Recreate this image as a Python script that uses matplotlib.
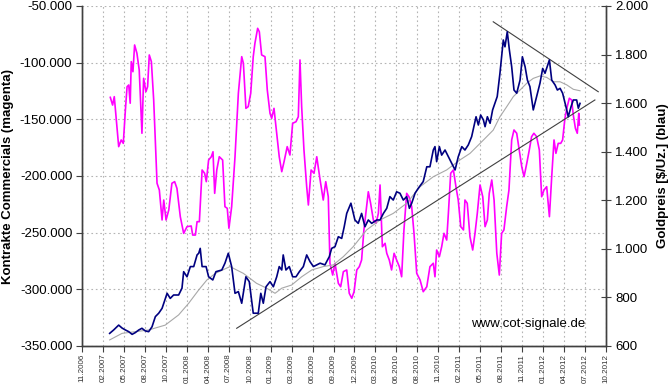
import matplotlib
matplotlib.use("Agg")
import matplotlib.pyplot as plt
from matplotlib.ticker import FuncFormatter

plt.rcParams['font.family'] = ['Liberation Sans', 'DejaVu Sans']

# x positions are given in units of the (evenly spaced) date ticks below
tick_labels = ["11.2006", "02.2007", "05.2007", "08.2007", "10.2007", "01.2008",
               "04.2008", "07.2008", "10.2008", "01.2009", "03.2009", "06.2009",
               "09.2009", "12.2009", "03.2010", "06.2010", "08.2010", "11.2010",
               "02.2011", "05.2011", "08.2011", "11.2011", "01.2012", "04.2012",
               "07.2012", "10.2012"]

# gold price [$/oz]
gold_x = [1.32, 1.51, 1.75, 1.91, 2.07, 2.23, 2.39, 2.54, 2.71, 2.86, 3.02, 3.18, 3.34, 3.50,
          3.66, 3.82, 4.06, 4.21, 4.37, 4.61, 4.77, 4.85, 5.01, 5.17, 5.33, 5.49, 5.57, 5.64,
          5.73, 5.92, 6.04, 6.24, 6.39, 6.67, 6.82, 6.98, 7.14, 7.30, 7.46, 7.62, 7.82, 7.98,
          8.17, 8.41, 8.53, 8.65, 8.78, 8.97, 9.13, 9.29, 9.41, 9.53, 9.60, 9.73, 9.89, 10.05,
          10.21, 10.37, 10.56, 10.72, 10.88, 11.04, 11.20, 11.36, 11.59, 11.80, 11.91, 12.07,
          12.23, 12.39, 12.51, 12.63, 12.83, 13.02, 13.18, 13.34, 13.50, 13.66, 13.82, 14.06,
          14.22, 14.38, 14.54, 14.69, 14.85, 15.01, 15.17, 15.33, 15.49, 15.62, 15.73, 15.89,
          16.04, 16.28, 16.45, 16.60, 16.76, 16.84, 16.92, 17.05, 17.16, 17.32, 17.48, 17.64,
          17.80, 17.95, 18.12, 18.27, 18.43, 18.59, 18.80, 18.91, 19.02, 19.15, 19.23, 19.34,
          19.47, 19.59, 19.70, 19.81, 19.94, 20.02, 20.10, 20.18, 20.29, 20.39, 20.50, 20.61,
          20.74, 20.90, 21.01, 21.14, 21.25, 21.37, 21.53, 21.69, 21.85, 21.98, 22.09, 22.30,
          22.41, 22.57, 22.68, 22.81, 22.93, 23.09, 23.20, 23.33, 23.44, 23.60, 23.68, 23.76]
gold = [652, 666, 686, 674, 666, 659, 648, 655, 666, 673, 662, 659, 679, 721,
        735, 755, 817, 796, 810, 810, 838, 906, 885, 927, 927, 975, 982, 1002,
        927, 927, 885, 872, 906, 913, 941, 982, 927, 817, 824, 776, 885, 865,
        735, 735, 817, 776, 844, 865, 844, 885, 927, 913, 975, 913, 927, 885,
        885, 906, 927, 975, 947, 927, 934, 941, 934, 968, 1002, 1009,
        1050, 1043, 1091, 1146, 1188, 1119, 1105, 1146, 1091, 1119, 1105, 1119,
        1119, 1146, 1167, 1215, 1201, 1235, 1229, 1201, 1215, 1167, 1188, 1229,
        1249, 1277, 1338, 1338, 1407, 1421, 1359, 1421, 1386, 1407, 1379, 1352,
        1325, 1379, 1421, 1407, 1428, 1462, 1544, 1510, 1551, 1531, 1503, 1544,
        1517, 1572, 1599, 1627, 1723, 1791, 1860, 1832, 1894, 1819, 1750, 1654,
        1641, 1695, 1791, 1750, 1695, 1668, 1572, 1627, 1682, 1743, 1723, 1778,
        1695, 1675, 1654, 1661, 1641, 1585, 1544, 1585, 1613, 1613, 1579, 1599]

# moving average of the gold price
avg_x = [1.32, 1.91, 2.54, 3.18, 3.97, 4.61, 5.09, 5.57, 5.96, 6.36, 7.06, 7.70, 8.33, 8.81,
         9.21, 9.53, 10.00, 10.48, 10.96, 11.51, 11.99, 12.47, 12.94, 13.58, 14.22, 14.85,
         15.49, 16.13, 16.76, 17.40, 18.03, 18.51, 19.15, 19.62, 19.94, 20.26, 20.58, 20.90,
         21.22, 21.53, 21.85, 22.17, 22.49, 22.81, 23.13, 23.44, 23.76]
gold_avg = [625, 652, 659, 666, 686, 728, 776, 831, 872, 899, 927, 899, 858, 838,
            817, 838, 851, 885, 913, 927, 934, 968, 1009, 1078, 1119, 1146,
            1188, 1256, 1297, 1325, 1366, 1393, 1448, 1489, 1544, 1585, 1627, 1654,
            1682, 1702, 1712, 1706, 1688, 1688, 1675, 1657, 1651]

# net contracts of the commercials
cot_x = [1.35, 1.46, 1.54, 1.64, 1.75, 1.87, 1.97, 2.07, 2.15, 2.23, 2.30, 2.35, 2.43, 2.51,
         2.62, 2.73, 2.86, 2.94, 3.05, 3.13, 3.21, 3.31, 3.42, 3.58, 3.69, 3.82, 3.90, 4.01,
         4.14, 4.29, 4.42, 4.53, 4.69, 4.85, 5.01, 5.21, 5.28, 5.41, 5.49, 5.60, 5.73, 5.85,
         5.93, 6.04, 6.17, 6.25, 6.33, 6.43, 6.55, 6.71, 6.82, 6.93, 7.01, 7.14, 7.30, 7.46,
         7.62, 7.70, 7.82, 7.93, 8.05, 8.17, 8.25, 8.38, 8.46, 8.57, 8.73, 8.84, 8.97, 9.05,
         9.16, 9.29, 9.41, 9.53, 9.64, 9.79, 9.92, 10.05, 10.21, 10.32, 10.40, 10.48, 10.59,
         10.72, 10.80, 10.93, 11.07, 11.20, 11.36, 11.51, 11.63, 11.75, 11.83, 11.96, 12.07,
         12.23, 12.34, 12.47, 12.63, 12.75, 12.87, 12.98, 13.11, 13.23, 13.34, 13.45, 13.58,
         13.66, 13.77, 13.90, 14.03, 14.14, 14.22, 14.33, 14.46, 14.54, 14.66, 14.77, 14.89,
         15.01, 15.14, 15.25, 15.36, 15.49, 15.60, 15.73, 15.84, 15.97, 16.13, 16.28, 16.45,
         16.60, 16.76, 16.84, 16.92, 17.05, 17.16, 17.27, 17.40, 17.48, 17.59, 17.72, 17.84,
         17.95, 18.07, 18.20, 18.27, 18.38, 18.51, 18.64, 18.75, 18.86, 18.99, 19.12, 19.23,
         19.34, 19.43, 19.55, 19.66, 19.79, 19.91, 20.02, 20.13, 20.26, 20.37, 20.50, 20.61,
         20.74, 20.86, 20.98, 21.09, 21.22, 21.34, 21.45, 21.56, 21.69, 21.82, 21.93, 22.04,
         22.17, 22.30, 22.41, 22.52, 22.61, 22.72, 22.84, 22.93, 23.04, 23.15, 23.25, 23.36,
         23.44, 23.54, 23.63, 23.70, 23.73]
cot = [-130.6, -137.4, -130.0, -150.6, -174.1, -168.2, -171.2, -141.8, -121.2, -119.7, -135.8,
       -99.1, -108.0, -84.4, -91.7, -106.5, -162.3, -113.8, -125.6, -121.2, -93.2, -99.1,
       -132.9, -206.4, -212.4, -238.8, -221.2, -238.8, -230.0, -206.4, -205.0, -210.9, -235.9,
       -250.6, -244.7, -244.1, -252.1, -252.1, -240.3, -240.3, -194.7, -197.6, -205.0, -185.9,
       -183.0, -178.6, -215.3, -194.7, -183.0, -185.9, -227.1, -228.5, -246.1, -227.1, -183.0,
       -127.0, -94.7, -100.6, -140.3, -138.8, -127.0, -94.7, -82.9, -69.7, -72.7, -93.2, -94.7,
       -124.1, -144.7, -149.1, -140.3, -162.3, -183.0, -196.2, -187.4, -174.1, -181.5, -153.5,
       -152.1, -147.7, -97.6, -138.8, -177.1, -209.4, -225.6, -194.7, -197.6, -183.0, -203.5,
       -221.2, -205.0, -218.3, -277.0, -287.4, -277.0, -294.7, -297.7, -284.4, -282.9, -303.5,
       -307.9, -302.1, -282.9, -280.0, -274.1, -247.6, -227.1, -213.9, -224.1, -238.8, -241.7,
       -232.9, -207.9, -262.4, -259.4, -268.2, -274.1, -282.9, -268.2, -274.1, -280.0, -288.9,
       -247.6, -215.3, -218.3, -227.1, -250.6, -285.9, -291.8, -302.1, -297.7, -280.0, -277.0,
       -288.9, -265.3, -271.2, -262.4, -250.6, -256.5, -232.9, -197.6, -194.7, -209.4, -221.2,
       -244.7, -247.6, -221.2, -224.1, -253.6, -265.3, -250.6, -232.9, -207.9, -218.3, -244.7,
       -238.8, -215.3, -203.5, -221.2, -268.2, -287.4, -250.6, -247.6, -227.1, -212.4, -168.2,
       -159.4, -162.3, -177.1, -191.8, -200.6, -188.8, -177.1, -165.3, -162.3, -165.3, -177.1,
       -218.3, -212.4, -209.4, -235.9, -200.6, -168.2, -180.0, -171.2, -171.2, -168.2, -149.1,
       -138.8, -131.4, -132.9, -146.2, -157.9, -162.3, -144.7, -155.0]
cot = [v * 1000 for v in cot]

# trend lines on the gold price
lower_x, lower_y = [7.38, 24.47], [673, 1613]
upper_x, upper_y = [19.62, 24.63], [1935, 1647]

fig = plt.figure(figsize=(6.7, 3.84), dpi=100)
ax = fig.add_axes([82 / 670, 1 - 346 / 384, 524 / 670, 340 / 384])
ax2 = ax.twinx()

ax.plot(cot_x, cot, c='#ff00ff', lw=1.2)
ax2.plot(avg_x, gold_avg, c='#a8a8a8', lw=0.8)
ax2.plot(lower_x, lower_y, c='#404040', lw=0.8)
ax2.plot(upper_x, upper_y, c='#404040', lw=0.8)
ax2.plot(gold_x, gold, c='#000080', lw=1.2)

ax.set_xlim(0, len(tick_labels) - 1)
ax.set_ylim(-350000, -50000)
ax2.set_ylim(600, 2000)

ax.set_xticks(range(len(tick_labels)))
ax.set_xticklabels(tick_labels, rotation=90, fontsize=5.8, color='#333333')
ax.set_yticks(range(-350000, -49999, 50000))
ax2.set_yticks(range(600, 2001, 200))

dot = lambda v, p: f"{int(v):,}".replace(",", ".")
ax.yaxis.set_major_formatter(FuncFormatter(dot))
ax2.yaxis.set_major_formatter(FuncFormatter(dot))

ax.tick_params(axis='y', labelsize=9.5, direction='out', length=4, color='#404040', pad=3)
ax.tick_params(axis='x', direction='out', length=4, color='#404040', pad=1.5)
ax2.tick_params(axis='y', labelsize=9.5, direction='inout', length=7, color='#404040', pad=3)

ax.grid(True, color='#b4b4b4', linestyle=(0, (1.5, 2.5)), lw=0.8)
ax.set_axisbelow(True)

for a in (ax, ax2):
    a.spines['top'].set_visible(False)
    for s in ('left', 'right', 'bottom'):
        a.spines[s].set_color('#404040')
        a.spines[s].set_linewidth(1.0)

ax.set_ylabel("Kontrakte Commercials (magenta)", fontsize=9.5, fontweight='bold', labelpad=4)
ax2.set_ylabel("Goldpreis [$/Uz.] (blau)", fontsize=9.5, fontweight='bold', labelpad=6)

ax2.text(0.851, 0.065, "www.cot-signale.de", transform=ax2.transAxes, fontsize=9.5, ha='center', va='center')

fig.savefig("out.png", dpi=100)
